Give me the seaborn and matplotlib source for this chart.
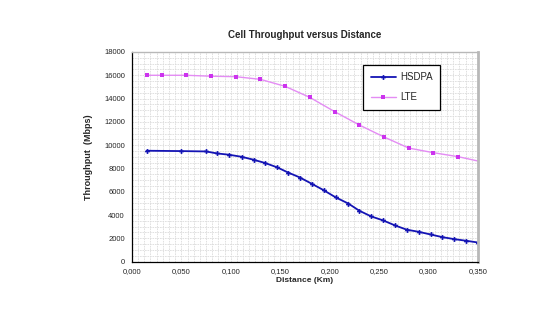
import matplotlib
matplotlib.use("Agg")
import matplotlib.pyplot as plt
import matplotlib.ticker as mticker
import seaborn as sns
import pandas as pd

# HSDPA curve
hsdpa_dist = [0.015, 0.050, 0.075, 0.086, 0.098, 0.111, 0.123, 0.135, 0.147, 0.158,
              0.170, 0.182, 0.194, 0.206, 0.219, 0.230, 0.242, 0.254, 0.266, 0.278,
              0.290, 0.302, 0.314, 0.326, 0.338, 0.350]
hsdpa_tput = [9520, 9490, 9460, 9290, 9180, 9000, 8750, 8460, 8090, 7650,
              7220, 6680, 6130, 5520, 4980, 4370, 3880, 3540, 3110, 2740,
              2560, 2330, 2100, 1930, 1790, 1640]

# LTE curve
lte_dist = [0.015, 0.030, 0.055, 0.080, 0.105, 0.130, 0.155, 0.180, 0.205,
            0.230, 0.255, 0.280, 0.305, 0.330, 0.352]
lte_tput = [16000, 16000, 16000, 15920, 15880, 15650, 15050, 14100, 12880,
            11730, 10700, 9750, 9350, 9010, 8600]

df = pd.concat([
    pd.DataFrame({"dist": hsdpa_dist, "tput": hsdpa_tput, "tech": "HSDPA"}),
    pd.DataFrame({"dist": lte_dist, "tput": lte_tput, "tech": "LTE"}),
])

sns.set_style("white")
plt.rcParams['font.family'] = ['Liberation Sans', 'DejaVu Sans']

fig = plt.figure(figsize=(5.45, 3.27), dpi=100)
ax = fig.add_axes([0.242, 0.2, 0.635, 0.641])

sns.lineplot(data=df[df.tech == "HSDPA"], x="dist", y="tput", ax=ax, color="#1414b4",
             lw=1.3, marker="P", markersize=3.5, markeredgewidth=0, label="HSDPA")
sns.lineplot(data=df[df.tech == "LTE"], x="dist", y="tput", ax=ax, color="#e48cf4",
             lw=1.0, marker="s", markersize=3.5, markerfacecolor="#cc33ee",
             markeredgewidth=0, label="LTE")

ax.set_xlim(0, 0.35)
ax.set_ylim(0, 18000)
ax.xaxis.set_major_locator(mticker.MultipleLocator(0.05))
ax.yaxis.set_major_locator(mticker.MultipleLocator(2000))
ax.xaxis.set_minor_locator(mticker.MultipleLocator(0.00625))
ax.yaxis.set_minor_locator(mticker.MultipleLocator(500))
ax.xaxis.set_major_formatter(mticker.FuncFormatter(lambda v, p: f"{v:.3f}".replace(".", ",")))
ax.grid(which="both", color="#dcdcdc", lw=0.6, ls=(0, (2, 1)))
ax.set_axisbelow(True)

ax.tick_params(axis="both", which="major", direction="out", length=3, width=0.8,
               labelsize=5.5, color="black", pad=2)
ax.tick_params(which="minor", length=0)
for s in ["left", "bottom"]:
    ax.spines[s].set_color("black")
    ax.spines[s].set_linewidth(0.9)
for s in ["top", "right"]:
    ax.spines[s].set_color("#b8b8b8")
ax.spines["top"].set_linewidth(1.0)
ax.spines["right"].set_linewidth(2.0)

ax.set_title("Cell Throughput versus Distance", fontsize=7, fontweight="bold", pad=10)
ax.set_xlabel("Distance (Km)", fontsize=6, fontweight="bold", labelpad=1)
ax.set_ylabel("Throughput  (Mbps)", fontsize=6.5, fontweight="bold", labelpad=8)

leg = ax.legend(loc="upper left", bbox_to_anchor=(0.668, 0.94), fontsize=7,
                frameon=True, fancybox=False, edgecolor="black", handlelength=2.6,
                borderpad=0.8, labelspacing=1.0, handletextpad=0.4, borderaxespad=0)
leg.get_frame().set_linewidth(0.9)
leg.get_frame().set_alpha(1)

fig.savefig("out.png", dpi=100, facecolor="white")
